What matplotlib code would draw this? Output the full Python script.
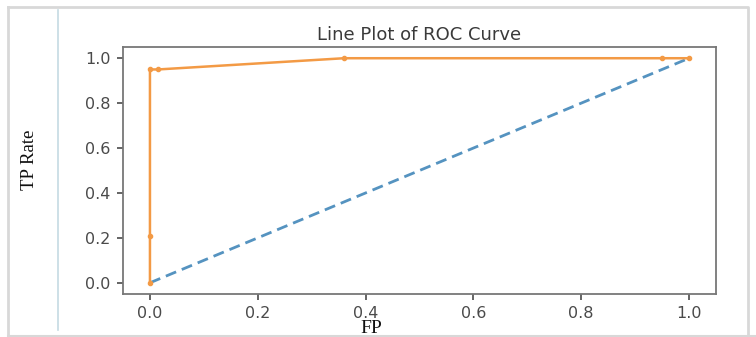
import matplotlib
matplotlib.use("Agg")
import matplotlib.pyplot as plt
from matplotlib.lines import Line2D

# Data
ns_fpr = [0.0, 1.0]
ns_tpr = [0.0, 1.0]
lr_fpr = [0.0, 0.0, 0.0, 0.015, 0.36, 0.95, 1.0]
lr_tpr = [0.0, 0.21, 0.95, 0.95, 1.0, 1.0, 1.0]
x_ticks = [0.0, 0.2, 0.4, 0.6, 0.8, 1.0]
y_ticks = [0.0, 0.2, 0.4, 0.6, 0.8, 1.0]
title = "Line Plot of ROC Curve"
xlabel = "FP"
ylabel = "TP Rate"

W, H = 756, 337
fig = plt.figure(figsize=(W / 100, H / 100), dpi=100)
fig.patch.set_facecolor("white")

ax = fig.add_axes([123 / W, 1 - 294 / H, (716 - 123) / W, (294 - 47) / H])
ax.plot(ns_fpr, ns_tpr, linestyle="--", color="#5593c0", lw=2.0, dashes=(4, 2.2))
ax.plot(lr_fpr, lr_tpr, marker=".", color="#f39a45", lw=1.8, markersize=6)
ax.set_xticks(x_ticks)
ax.set_yticks(y_ticks)
ax.set_xticklabels([f"{v:.1f}" for v in x_ticks])
ax.set_yticklabels([f"{v:.1f}" for v in y_ticks])
ax.tick_params(colors="#4a4a4a", labelsize=11.5, length=4, width=1.2, pad=5)
for s in ax.spines.values():
    s.set_color("#777777")
    s.set_linewidth(1.3)
ax.set_title(title, fontsize=13, color="#3a3a3a", pad=5)

# Outer labels (serif)
fig.text(30 / W, 1 - 160 / H, ylabel, rotation=90, ha="center", va="center",
         family="Liberation Serif", fontsize=13.5, color="#111111")
fig.text(371 / W, 1 - 333 / H, xlabel, ha="center", va="baseline",
         family="Liberation Serif", fontsize=14, color="#111111")

# Borders / decoration
fig.add_artist(Line2D([8 / W, 748 / W, 748 / W], [1 - 6.5 / H, 1 - 6.5 / H, 0], transform=fig.transFigure,
                      color="#d8d8d8", lw=2))
fig.add_artist(Line2D([8 / W, 8 / W], [1 - 6.5 / H, 0], transform=fig.transFigure, color="#d8d8d8", lw=2))
fig.add_artist(Line2D([8 / W, 1], [1 - 336 / H, 1 - 336 / H], transform=fig.transFigure, color="#d8d8d8", lw=1.5))
fig.add_artist(Line2D([58 / W, 58 / W], [1 - 10 / H, 1 - 330 / H], transform=fig.transFigure,
                      color="#c5dae3", lw=1.2))

fig.savefig("out.png", dpi=100)
